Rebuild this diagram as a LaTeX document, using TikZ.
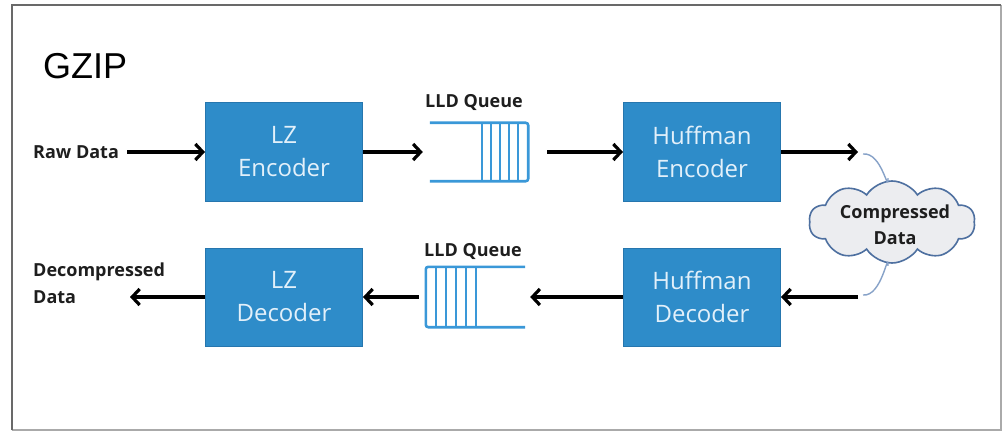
\documentclass[tikz,border=0pt]{standalone}
\usepackage{fontspec}
\setmainfont{Open Sans}
\newfontfamily\gzfont{Liberation Sans}
\usetikzlibrary{arrows.meta,shapes.symbols}
\definecolor{boxblue}{RGB}{46,140,201}
\definecolor{boxedge}{RGB}{38,118,174}
\definecolor{qblue}{RGB}{58,152,216}
\definecolor{cloudedge}{RGB}{78,112,160}
\definecolor{cloudfill}{RGB}{236,237,240}
\definecolor{linkblue}{RGB}{135,162,200}
\definecolor{framegray}{RGB}{105,105,105}
\definecolor{framelight}{RGB}{170,170,170}
\definecolor{txtdark}{RGB}{30,30,30}
\definecolor{boxtext}{RGB}{226,240,250}
\begin{document}
\begin{tikzpicture}[x=1pt,y=-1pt,
  block/.style={draw=boxedge,line width=1pt,fill=boxblue,minimum width=157pt,minimum height=98pt,
    align=center,text=boxtext,font=\fontsize{24}{33}\selectfont,inner sep=0pt},
  lbl/.style={font=\bfseries\fontsize{18}{27}\selectfont,text=txtdark,inner sep=0pt,align=left},
  arr/.style={draw=black,line width=3.2pt,-{Straight Barb[length=7.5pt,width=16pt]}},
  qline/.style={draw=qblue,line width=2.6pt,rounded corners=2.5pt},
  qbar/.style={draw=qblue,line width=1.4pt},
  link/.style={draw=linkblue,line width=1.4pt},
  cloudnode/.style={cloud,cloud puffs=10,cloud puff arc=115,aspect=2.1,draw=cloudedge,line width=1.6pt,
    fill=cloudfill,minimum width=166pt,minimum height=82pt,inner sep=0pt},
  cloudtext/.style={align=center,font=\bfseries\fontsize{18}{26}\selectfont,text=txtdark,inner sep=0pt}
]
\useasboundingbox (0,0) rectangle (1003,433);
\fill[white] (0,0) rectangle (1003,433);
% frame
\draw[framelight,line width=1.2pt] (1001,5) -- (1001,430) -- (12,430);
\draw[framegray,line width=2.2pt] (12,430) -- (12,5) -- (1001,5);

\node[anchor=west,font=\gzfont\fontsize{36}{40}\selectfont,inner sep=0pt] (title) at (43,66) {GZIP};

% blocks
\node[block] (lze) at (284,152) {LZ\\Encoder};
\node[block] (hfe) at (702,152) {Huffman\\Encoder};
\node[block] (lzd) at (284,297) {LZ\\Decoder};
\node[block] (hfd) at (702,297) {Huffman\\Decoder};

% queues
\node[minimum width=98pt,minimum height=58pt,inner sep=0pt] (q1) at (479,152) {};
\node[minimum width=99pt,minimum height=60pt,inner sep=0pt] (q2) at (475.5,297) {};
\draw[qline] (q1.north west) -- (q1.north east) -- (q1.south east) -- (q1.south west);
\foreach \x in {482,491,500,509,518} \draw[qbar] (\x,123) -- (\x,181);
\draw[qline] (q2.north east) -- (q2.north west) -- (q2.south west) -- (q2.south east);
\foreach \x in {436,446,456,466,476} \draw[qbar] (\x,267) -- (\x,327);
\node[lbl] (q1l) at (474,103) {LLD Queue};
\node[lbl] (q2l) at (473,252) {LLD Queue};

% labels
\node[lbl,anchor=west] (raw) at (33,152) {Raw Data};
\node[lbl,anchor=north west] (dec) at (33,263) {Decompressed\\Data};
\coordinate (dout) at (130,297);
\coordinate (eo) at (858,152);
\coordinate (di) at (858,297);

% cloud
\node[cloudnode] (cl) at (892,222) {};
\node[cloudtext] (clt) at (895,225) {Compressed\\Data};

% arrows
\draw[arr,shorten <=8pt] (raw.east) -- (raw.east -| lze.west);
\draw[arr,shorten >=7pt] (lze.east) -- (q1.west);
\draw[arr,shorten <=19pt] (q1.east) -- (hfe.west);
\draw[arr] (hfe.east) -- (eo);
\draw[arr] (di) -- (hfd.east);
\draw[arr,shorten >=5pt] (hfd.west) -- (q2.east);
\draw[arr,shorten <=7pt] (q2.west) -- (lzd.east);
\draw[arr] (lzd.west) -- (dout);

% links to cloud
\draw[link] ([xshift=5pt,yshift=-2pt]eo) .. controls ([xshift=24pt,yshift=0pt]eo) and ([xshift=-4pt,yshift=-14pt]cl.north) .. ([xshift=-4pt,yshift=2pt]cl.north);
\draw[link] ([xshift=5pt,yshift=2pt]di) .. controls ([xshift=24pt,yshift=0pt]di) and ([xshift=-4pt,yshift=14pt]cl.south) .. ([xshift=-4pt,yshift=-2pt]cl.south);
\end{tikzpicture}
\end{document}
